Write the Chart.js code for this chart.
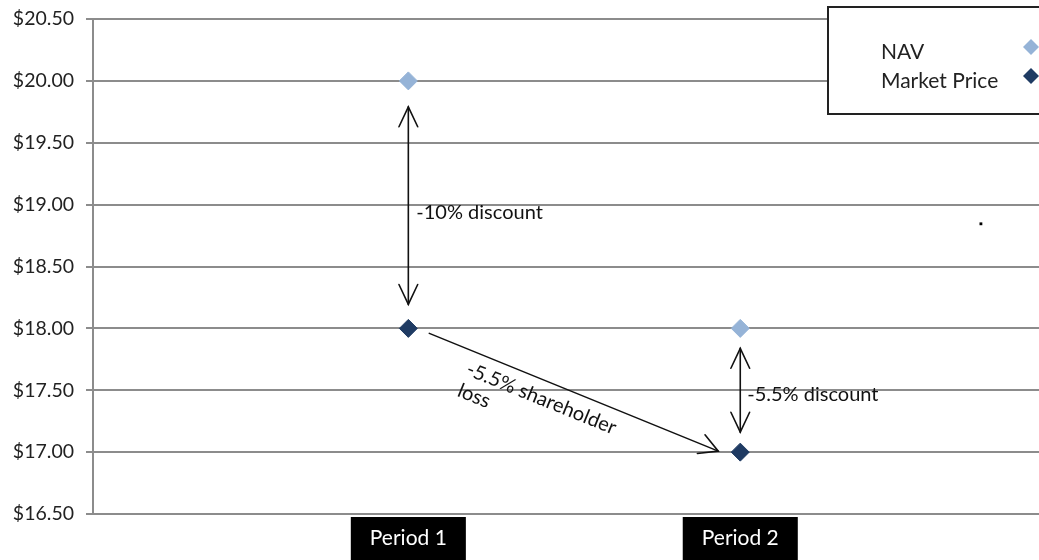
<!DOCTYPE html>
<html>
<head>
<meta charset="utf-8">
<script src="https://cdn.jsdelivr.net/npm/chart.js@4"></script>
<style>
  body { margin: 0; background: #fff; }
  #wrap { width: 1039px; height: 560px; position: relative; }
</style>
</head>
<body>
<div id="wrap"><canvas id="discountChart"></canvas></div>
<script>
// data
const categories = ['Period 1', 'Period 2'];
const navValues = [20.00, 18.00];
const marketValues = [18.00, 17.00];
const seriesNames = ['NAV', 'Market Price'];
const strayDot = [{ x: 2.725, y: 18.845 }];
const yMin = 16.5, yMax = 20.5, yStep = 0.5;
const discountLabels = ['-10% discount', '-5.5% discount'];
const lossLabel = ['-5.5% shareholder', 'loss'];

const navColor = '#95b3d7';
const marketColor = '#1f3b63';
const gridColor = '#8c8c8c';
const font = 'Lato, "Open Sans", sans-serif';

function arrowHead(ctx, x, y, angle, len, spread) {
    ctx.beginPath();
    ctx.moveTo(x - len * Math.cos(angle - spread), y - len * Math.sin(angle - spread));
    ctx.lineTo(x, y);
    ctx.lineTo(x - len * Math.cos(angle + spread), y - len * Math.sin(angle + spread));
    ctx.stroke();
}

function doubleArrow(ctx, x, y1, y2) {
    ctx.beginPath();
    ctx.moveTo(x, y1);
    ctx.lineTo(x, y2);
    ctx.stroke();
    arrowHead(ctx, x, y1, -Math.PI / 2, 22, 0.44);
    arrowHead(ctx, x, y2, Math.PI / 2, 22, 0.44);
}

const annotations = {
    id: 'annotations',
    afterDatasetsDraw(chart) {
        const ctx = chart.ctx;
        const xs = chart.scales.x, ys = chart.scales.y;
        const x1 = xs.getPixelForValue(1), x2 = xs.getPixelForValue(2);
        const nav1 = ys.getPixelForValue(navValues[0]), mk1 = ys.getPixelForValue(marketValues[0]);
        const nav2 = ys.getPixelForValue(navValues[1]), mk2 = ys.getPixelForValue(marketValues[1]);

        ctx.save();
        ctx.strokeStyle = '#111';
        ctx.fillStyle = '#111';
        ctx.lineWidth = 1.6;
        ctx.lineCap = 'round';

        // discount arrows
        doubleArrow(ctx, x1, nav1 + 26, mk1 - 24);
        doubleArrow(ctx, x2, nav2 + 20, mk2 - 20);

        ctx.font = '20px ' + font;
        ctx.textBaseline = 'middle';
        ctx.fillText(discountLabels[0], x1 + 8, (nav1 + mk1) / 2 + 8);
        ctx.fillText(discountLabels[1], x2 + 7, (nav2 + mk2) / 2 + 4);

        // shareholder loss arrow
        const sx = x1 + 21, sy = mk1 + 5;
        const ex = x2 - 22, ey = mk2 - 1;
        const ang = Math.atan2(ey - sy, ex - sx);
        ctx.beginPath();
        ctx.moveTo(sx, sy);
        ctx.lineTo(ex, ey);
        ctx.stroke();
        arrowHead(ctx, ex, ey, ang, 21, 0.5);

        ctx.save();
        ctx.translate(x1 + 59, mk1 + 40);
        ctx.rotate(ang);
        ctx.fillText(lossLabel[0], 0, 0);
        ctx.fillText(lossLabel[1], 0, 23);
        ctx.restore();

        ctx.restore();
    },
    afterDraw(chart) {
        // legend box, cut off at right edge like the source
        const ctx = chart.ctx;
        ctx.save();
        ctx.strokeStyle = '#222';
        ctx.lineWidth = 2;
        ctx.fillStyle = '#fff';
        ctx.fillRect(828, 7, 220, 107);
        ctx.strokeRect(828, 7, 220, 107);
        ctx.font = '21px ' + font;
        ctx.textBaseline = 'middle';
        const cols = [navColor, marketColor];
        seriesNames.forEach((name, i) => {
            const y = 52 + i * 29;
            ctx.fillStyle = '#222';
            ctx.fillText(name, 881, y);
            ctx.fillStyle = cols[i];
            ctx.beginPath();
            ctx.moveTo(1031, y - 13);
            ctx.lineTo(1039, y - 5);
            ctx.lineTo(1031, y + 3);
            ctx.lineTo(1023, y - 5);
            ctx.closePath();
            ctx.fill();
        });
        ctx.restore();
    }
};

new Chart(document.getElementById('discountChart'), {
    type: 'scatter',
    data: {
        datasets: [
            {
                label: seriesNames[0],
                data: navValues.map((v, i) => ({ x: i + 1, y: v })),
                backgroundColor: navColor,
                borderColor: navColor,
                pointStyle: 'rectRot',
                pointRadius: 9,
                borderWidth: 1
            },
            {
                label: seriesNames[1],
                data: marketValues.map((v, i) => ({ x: i + 1, y: v })),
                backgroundColor: marketColor,
                borderColor: marketColor,
                pointStyle: 'rectRot',
                pointRadius: 9,
                borderWidth: 1
            },
            {
                label: 'stray',
                data: strayDot,
                backgroundColor: '#000',
                borderColor: '#000',
                pointStyle: 'rect',
                pointRadius: 2,
                borderWidth: 0
            }
        ]
    },
    options: {
        responsive: true,
        maintainAspectRatio: false,
        animation: false,
        layout: { autoPadding: false, padding: { top: 19, right: 0, left: 0, bottom: 0 } },
        plugins: {
            legend: { display: false },
            tooltip: { enabled: false }
        },
        scales: {
            x: {
                type: 'linear',
                min: 0.05,
                max: 2.9,
                afterBuildTicks: axis => { axis.ticks = categories.map((c, i) => ({ value: i + 1 })); },
                afterFit: axis => {
                    axis.height = 46;
                    axis.paddingLeft = 0;
                    axis.paddingRight = 0;
                },
                grid: { display: false },
                border: { display: true, color: gridColor, width: 2 },
                ticks: {
                    callback: v => categories[v - 1],
                    color: '#fff',
                    font: { family: font, size: 21 },
                    padding: 4,
                    showLabelBackdrop: true,
                    backdropColor: '#000',
                    backdropPadding: { top: 9, bottom: 20, left: 19, right: 19 },
                    maxRotation: 0
                }
            },
            y: {
                min: yMin,
                max: yMax,
                afterFit: axis => {
                    axis.width = 93;
                    axis.paddingTop = 0;
                    axis.paddingBottom = 0;
                },
                grid: { color: gridColor, lineWidth: 2, tickLength: 7 },
                border: { display: true, color: gridColor, width: 2 },
                ticks: {
                    stepSize: yStep,
                    color: '#222',
                    padding: 12,
                    font: { family: font, size: 19.5 },
                    callback: v => '$' + v.toFixed(2)
                }
            }
        }
    },
    plugins: [annotations]
});
</script>
</body>
</html>
